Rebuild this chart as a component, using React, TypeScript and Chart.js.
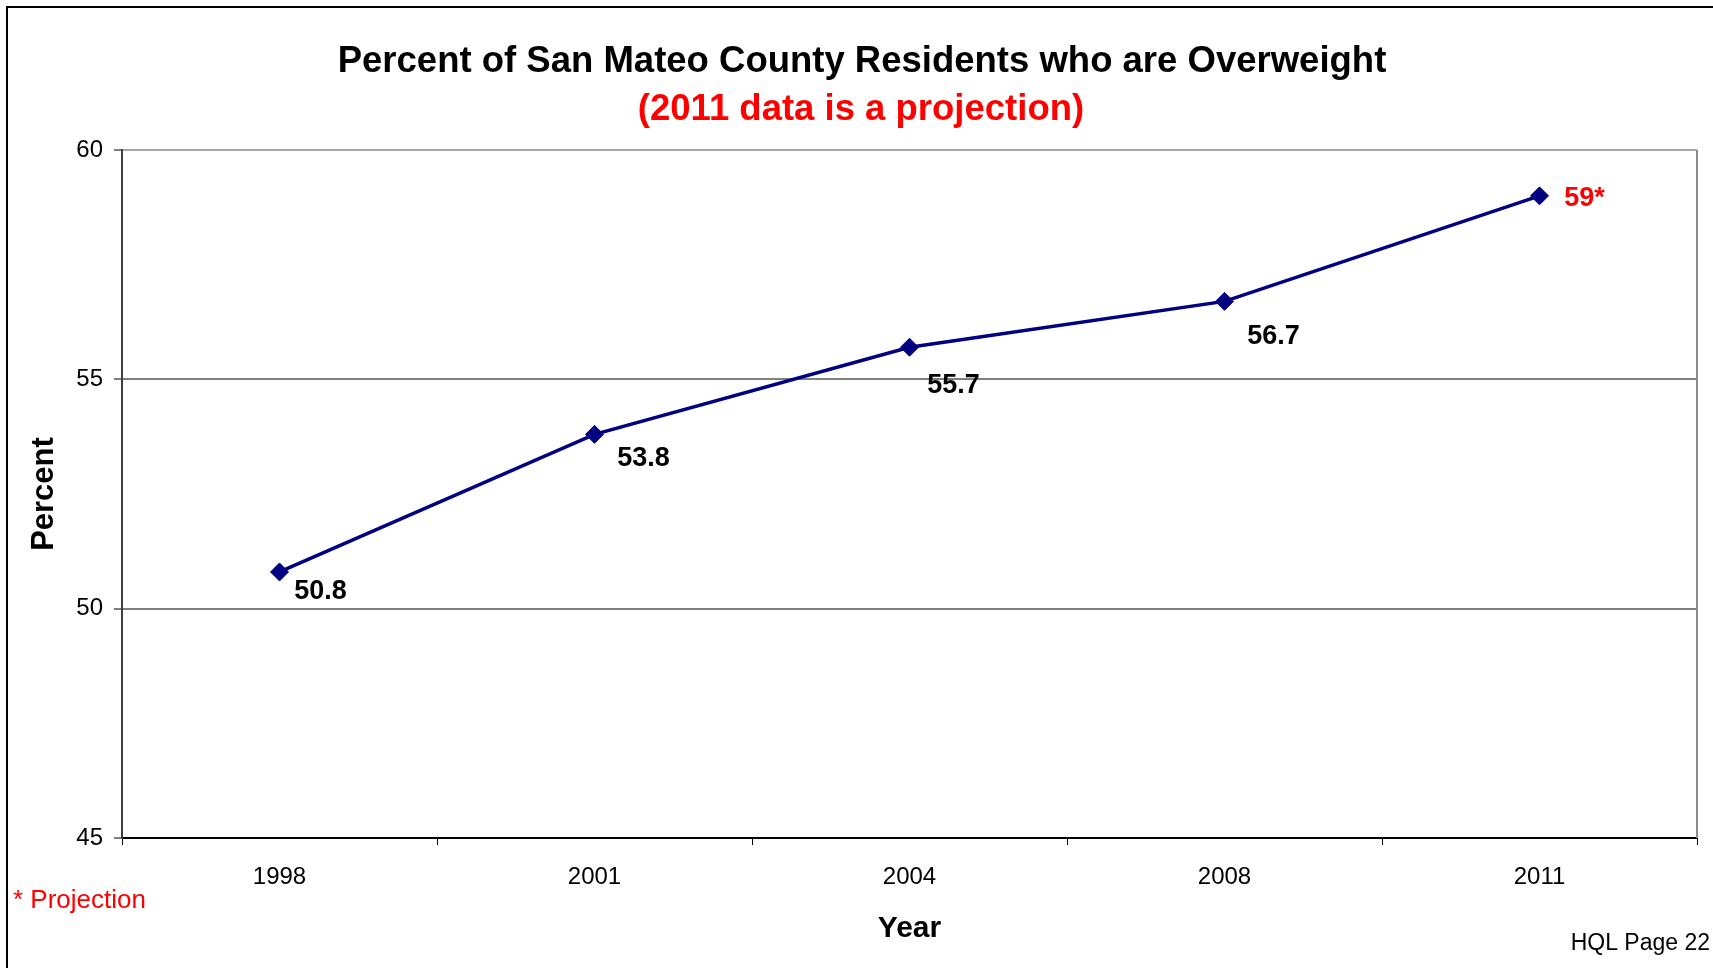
import React, { useEffect, useRef } from "react";
import { Chart, registerables } from "chart.js";

Chart.register(...registerables);

const years = ["1998", "2001", "2004", "2008", "2011"];
const percentOverweight = [50.8, 53.8, 55.7, 56.7, 59];
const isProjection = [false, false, false, false, true];
const yTicks = [45, 50, 55, 60];

const chartTitle = "Percent of San Mateo County Residents who are Overweight";
const chartSubtitle = "(2011 data is a projection)";
const yAxisTitle = "Percent";
const xAxisTitle = "Year";
const footnote = "* Projection";
const pageNote = "HQL Page 22";

const FONT = "'Liberation Sans', Arial, Helvetica, sans-serif";

// label placement relative to each point (dx, dy to label centre)
const labelShift = [
  [41, 20],
  [49, 24],
  [44, 38],
  [49, 35],
  [45, 3],
];

const decorPlugin = {
  id: "decor",
  beforeDraw(chart: any) {
    const { ctx, width, height } = chart;
    ctx.save();
    ctx.fillStyle = "#ffffff";
    ctx.fillRect(0, 0, width, height);
    ctx.restore();
  },
  afterDraw(chart: any) {
    const { ctx, chartArea, width, height } = chart;
    ctx.save();
    // outer frame (left + top)
    ctx.strokeStyle = "#000000";
    ctx.lineWidth = 2;
    ctx.beginPath();
    ctx.moveTo(7, height);
    ctx.lineTo(7, 7);
    ctx.lineTo(width, 7);
    ctx.stroke();

    // right border of plot area
    ctx.strokeStyle = "#8c8c8c";
    ctx.lineWidth = 2;
    ctx.beginPath();
    ctx.moveTo(chartArea.right, chartArea.top);
    ctx.lineTo(chartArea.right, chartArea.bottom);
    ctx.stroke();

    // titles
    ctx.textAlign = "center";
    ctx.textBaseline = "alphabetic";
    ctx.fillStyle = "#000000";
    ctx.font = `bold 36.5px ${FONT}`;
    ctx.fillText(chartTitle, 862, 72);
    ctx.fillStyle = "#ff0000";
    ctx.fillText(chartSubtitle, 861, 120);

    // axis titles
    ctx.fillStyle = "#000000";
    ctx.font = `bold 30px ${FONT}`;
    ctx.textBaseline = "middle";
    ctx.fillText(xAxisTitle, (chartArea.left + chartArea.right) / 2, 929);
    ctx.save();
    ctx.translate(44, (chartArea.top + chartArea.bottom) / 2);
    ctx.rotate(-Math.PI / 2);
    ctx.font = `bold 31px ${FONT}`;
    ctx.fillText(yAxisTitle, 0, 0);
    ctx.restore();

    // footnotes
    ctx.textBaseline = "alphabetic";
    ctx.textAlign = "left";
    ctx.fillStyle = "#ff0000";
    ctx.font = `26px ${FONT}`;
    ctx.fillText(footnote, 13, 908);
    ctx.textAlign = "right";
    ctx.fillStyle = "#000000";
    ctx.font = `23px ${FONT}`;
    ctx.fillText(pageNote, 1710, 950);

    // data labels
    const meta = chart.getDatasetMeta(0);
    ctx.font = `bold 27px ${FONT}`;
    ctx.textAlign = "center";
    ctx.textBaseline = "middle";
    meta.data.forEach((pt: any, i: number) => {
      const v = percentOverweight[i];
      const txt = String(v) + (isProjection[i] ? "*" : "");
      ctx.fillStyle = isProjection[i] ? "#ff0000" : "#000000";
      const [dx, dy] = labelShift[i] || [45, 20];
      ctx.fillText(txt, pt.x + dx, pt.y + dy);
    });
    ctx.restore();
  },
};

export default function App() {
  const ref = useRef<HTMLCanvasElement | null>(null);

  useEffect(() => {
    if (!ref.current) return;
    const chart = new Chart(ref.current, {
      type: "line",
      data: {
        labels: years,
        datasets: [
          {
            label: "Percent overweight",
            data: percentOverweight,
            borderColor: "#000080",
            backgroundColor: "#000080",
            borderWidth: 3.5,
            pointStyle: "rectRot",
            pointRadius: 9,
            pointBorderWidth: 1,
            pointBackgroundColor: "#000080",
            pointBorderColor: "#000080",
            tension: 0,
            fill: false,
          },
        ],
      },
      options: {
        responsive: false,
        maintainAspectRatio: false,
        animation: false,
        devicePixelRatio: 1,
        layout: { padding: { top: 150, right: 16, left: 0, bottom: 0 } },
        plugins: {
          legend: { display: false },
          title: { display: false },
          tooltip: { enabled: false },
        },
        scales: {
          x: {
            type: "category",
            offset: true,
            afterFit: (s: any) => {
              s.height = 130;
            },
            grid: {
              offset: true,
              drawOnChartArea: false,
              drawTicks: true,
              tickLength: 7,
              tickColor: "#000000",
              tickWidth: 1,
            },
            border: { display: true, color: "#000000", width: 2 },
            ticks: {
              color: "#000000",
              font: { family: FONT, size: 24 },
              padding: 18,
              maxRotation: 0,
            },
          },
          y: {
            min: 45,
            max: 60,
            afterFit: (s: any) => {
              s.width = 122;
            },
            afterBuildTicks: (s: any) => {
              s.ticks = yTicks.map((v) => ({ value: v }));
            },
            grid: {
              color: (c: any) => (c.tick && c.tick.value === 60 ? "#a6a6a6" : "#808080"),
              lineWidth: 2,
              drawTicks: true,
              tickLength: 8,
              tickColor: "#000000",
              tickWidth: 1,
            },
            border: { display: true, color: "#404040", width: 2 },
            ticks: {
              color: "#000000",
              font: { family: FONT, size: 24 },
              padding: 11,
            },
          },
        },
      },
      plugins: [decorPlugin],
    });
    return () => chart.destroy();
  }, []);

  return (
    <div style={{ position: "absolute", left: 0, top: 0, width: 1713, height: 968, background: "#fff" }}>
      <canvas ref={ref} width={1713} height={968} style={{ display: "block" }} />
    </div>
  );
}
